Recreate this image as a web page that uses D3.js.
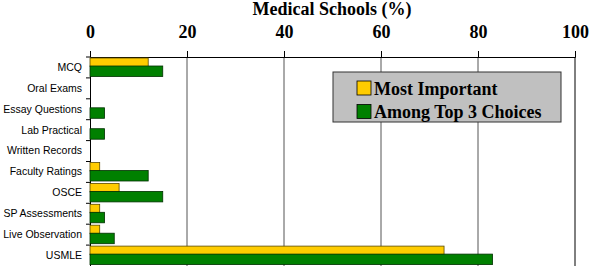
<!DOCTYPE html>
<html>
<head>
<meta charset="utf-8">
<script src="https://cdn.jsdelivr.net/npm/d3@7"></script>
<style>
  body { margin: 0; background: #fff; }
  svg { display: block; }
</style>
</head>
<body>
<script>
var categories = ["MCQ", "Oral Exams", "Essay Questions", "Lab Practical", "Written Records",
    "Faculty Ratings", "OSCE", "SP Assessments", "Live Observation", "USMLE"];
var mostImportant = [12, 0, 0, 0, 0, 2, 6, 2, 2, 73];
var topThree = [15, 0, 3, 3, 0, 12, 15, 3, 5, 83];
var ticks = [0, 20, 40, 60, 80, 100];
var seriesNames = ["Most Important", "Among Top 3 Choices"];
var colors = ["#ffcc00", "#008000"];

var width = 591, height = 266;
var plotLeft = 90, plotRight = 575, plotTop = 57, plotBottom = 266;

var svg = d3.select("body").append("svg")
    .attr("width", width)
    .attr("height", height);

var x = d3.scaleLinear().domain([0, 100]).range([plotLeft, plotRight]);
var y = d3.scaleBand().domain(categories).range([plotTop, plotBottom]);

// gridlines
svg.append("g").selectAll("line")
    .data(ticks.slice(1, -1))
    .join("line")
    .attr("x1", d => x(d)).attr("x2", d => x(d))
    .attr("y1", plotTop).attr("y2", plotBottom)
    .attr("stroke", "#555")
    .attr("stroke-width", 1);

// top axis
var xAxis = svg.append("g")
    .attr("transform", "translate(0," + plotTop + ")")
    .call(d3.axisTop(x).tickValues(ticks).tickSize(6).tickPadding(13));
xAxis.select(".domain").attr("stroke", "#000");
xAxis.selectAll("text")
    .attr("font-family", "Liberation Serif, serif")
    .attr("font-weight", "bold")
    .attr("font-size", 18)
    .attr("fill", "#000");

// left axis
var yAxis = svg.append("g")
    .attr("transform", "translate(" + plotLeft + ",0)")
    .call(d3.axisLeft(y).tickSize(0).tickPadding(8));
yAxis.select(".domain").attr("stroke", "#000");
yAxis.selectAll("text")
    .attr("font-family", "Liberation Sans, Arial, sans-serif")
    .attr("font-size", 10.5)
    .attr("fill", "#000");
svg.append("g").selectAll("line")
    .data(categories)
    .join("line")
    .attr("x1", plotLeft - 4).attr("x2", plotLeft)
    .attr("y1", d => y(d)).attr("y2", d => y(d))
    .attr("stroke", "#000");

// right border
svg.append("line")
    .attr("x1", plotRight).attr("x2", plotRight)
    .attr("y1", plotTop).attr("y2", plotBottom)
    .attr("stroke", "#000");

// bars
var bars = svg.append("g");
bars.selectAll("rect.mi")
    .data(categories)
    .join("rect").attr("class", "mi")
    .attr("x", x(0))
    .attr("y", d => y(d) + 1)
    .attr("height", 8.5)
    .attr("width", (d, i) => x(mostImportant[i]) - x(0))
    .attr("display", (d, i) => mostImportant[i] > 0 ? null : "none")
    .attr("fill", colors[0])
    .attr("stroke", "#5a4a00")
    .attr("stroke-width", 0.8);
bars.selectAll("rect.t3")
    .data(categories)
    .join("rect").attr("class", "t3")
    .attr("x", x(0))
    .attr("y", d => y(d) + 9)
    .attr("height", 10.5)
    .attr("width", (d, i) => x(topThree[i]) - x(0))
    .attr("display", (d, i) => topThree[i] > 0 ? null : "none")
    .attr("fill", colors[1])
    .attr("stroke", "#003000")
    .attr("stroke-width", 0.8);

// title
svg.append("text")
    .attr("x", 332)
    .attr("y", 15)
    .attr("text-anchor", "middle")
    .attr("font-family", "Liberation Serif, serif")
    .attr("font-weight", "bold")
    .attr("font-size", 18)
    .text("Medical Schools (%)");

// legend
var lg = svg.append("g").attr("transform", "translate(333,72)");
lg.append("rect")
    .attr("width", 228).attr("height", 50)
    .attr("fill", "#c0c0c0")
    .attr("stroke", "#333")
    .attr("stroke-width", 1);
var items = lg.selectAll("g.item")
    .data(seriesNames)
    .join("g").attr("class", "item")
    .attr("transform", (d, i) => "translate(24," + (9 + i * 23.5) + ")");
items.append("rect")
    .attr("width", 14).attr("height", 14)
    .attr("fill", (d, i) => colors[i])
    .attr("stroke", "#000")
    .attr("stroke-width", 0.8);
items.append("text")
    .attr("x", 17)
    .attr("y", 13.5)
    .attr("font-family", "Liberation Serif, serif")
    .attr("font-weight", "bold")
    .attr("font-size", 18)
    .text(d => d);
</script>
</body>
</html>
